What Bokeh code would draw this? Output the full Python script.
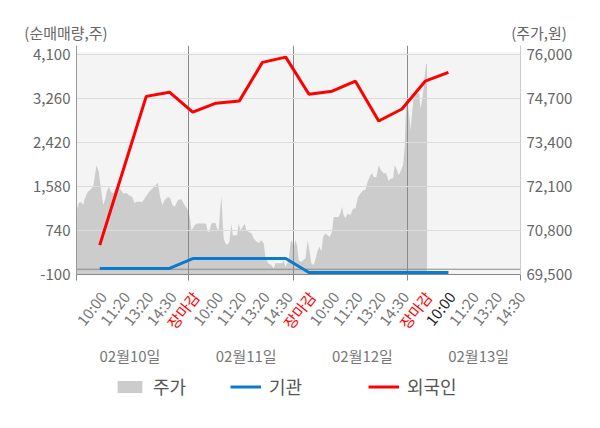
import math
from bokeh.plotting import figure
from bokeh.layouts import column
from bokeh.models import (Range1d, LinearAxis, FixedTicker, NumeralTickFormatter,
                          Legend, LegendItem, Span, CustomJSTickFormatter)
from bokeh.core.properties import value
from bokeh.embed import file_html
from bokeh.resources import INLINE

FONT = "Noto Sans CJK KR"
NAN = float("nan")

# ---------------- data ----------------
time_labels = ["10:00", "11:20", "13:20", "14:30", "장마감",
               "10:00", "11:20", "13:20", "14:30", "장마감",
               "10:00", "11:20", "13:20", "14:30", "장마감",
               "10:00", "11:20", "13:20", "14:30"]
dates = ["02월10일", "02월11일", "02월12일", "02월13일"]

foreign = [460, 1880, 3300, 3380, 3000, 3170, 3210, 3950, 4050,
           3340, 3400, 3590, 2830, 3060, 3590, 3760]
inst = [15, 15, 15, 15, 205, 205, 205, 205, 205,
        -62, -62, -62, -62, -62, -62, -62]

left_ticks = [-100, 740, 1580, 2420, 3260, 4100]
right_ticks = [69500, 70800, 72100, 73400, 74700, 76000]

# intraday price (fraction of trading day, price) for each day
day1_t = [0.00, 0.02, 0.04, 0.06, 0.07, 0.10, 0.12, 0.15, 0.17, 0.18, 0.20, 0.21, 0.24, 0.26, 0.27,
          0.29, 0.31, 0.33, 0.36, 0.38, 0.40, 0.42, 0.45, 0.47, 0.50, 0.52, 0.54, 0.56, 0.59, 0.62,
          0.65, 0.68, 0.71, 0.73, 0.75, 0.77, 0.79, 0.82, 0.84, 0.86, 0.88, 0.91, 0.94, 0.96, 0.99]
day1_p = [71370, 71610, 71640, 71550, 71700, 71940, 71990, 72110, 72530, 72730, 72530, 72240, 71550, 71760, 71940,
          72090, 71940, 71900, 72090, 72050, 71990, 71890, 71910, 71840, 71790, 71610, 71650, 71650, 71650, 71790,
          71940, 72040, 72140, 72210, 71790, 71550, 71700, 71790, 71750, 71550, 71500, 71700, 71720, 71600, 71450]
day2_t = [0.006, 0.022, 0.031, 0.044, 0.063, 0.085, 0.117, 0.148, 0.171, 0.186, 0.202, 0.221, 0.259, 0.275,
          0.291, 0.304, 0.316, 0.326, 0.338, 0.354, 0.370, 0.392, 0.411, 0.424, 0.449, 0.465, 0.481, 0.497,
          0.519, 0.538, 0.554, 0.576, 0.602, 0.624, 0.646, 0.671, 0.697, 0.718, 0.735, 0.760, 0.791, 0.813,
          0.829, 0.861, 0.893, 0.908, 0.924, 0.955, 0.974, 0.987]
day2_p = [71350, 71105, 70810, 70860, 70960, 71010, 71010, 71010, 71010, 70760, 70760, 71010, 71030, 70860,
          70810, 71400, 71810, 71200, 70560, 70420, 70370, 70460, 71010, 70660, 70660, 70660, 71010, 70810,
          70910, 71010, 70810, 70760, 70710, 70560, 70480, 70430, 70510, 70420, 70020, 69830, 69780, 69680,
          69830, 69830, 69830, 69920, 69730, 69920, 70460, 70510]
day3_t = [0.003, 0.018, 0.032, 0.047, 0.068, 0.085, 0.106, 0.126, 0.141, 0.158, 0.179, 0.196, 0.214, 0.231,
          0.246, 0.261, 0.281, 0.302, 0.319, 0.340, 0.354, 0.378, 0.398, 0.413, 0.428, 0.442, 0.457, 0.478,
          0.501, 0.525, 0.545, 0.569, 0.589, 0.613, 0.633, 0.653, 0.677, 0.692, 0.706, 0.730, 0.750, 0.771,
          0.794, 0.815, 0.838, 0.859, 0.877, 0.891, 0.912, 0.926, 0.947, 0.965, 0.979, 0.988, 0.997]
day3_p = [70300, 70510, 70370, 69920, 69870, 69920, 69970, 70510, 70220, 69830, 69780, 69970, 70220, 70320,
          70170, 70610, 70710, 70660, 70610, 70760, 71200, 71200, 71200, 71300, 71500, 71250, 71160, 71300,
          71250, 71450, 71450, 71790, 71890, 71990, 71990, 72240, 72430, 72490, 72380, 72380, 72730, 72580,
          72490, 72490, 72260, 72340, 72340, 72730, 72580, 72430, 72580, 72730, 73270, 74160, 74650]
day4_t = [0.000, 0.011, 0.023, 0.030, 0.044, 0.058, 0.072, 0.093, 0.108, 0.117, 0.128, 0.141, 0.155,
          0.167, 0.176]
day4_p = [74650, 74400, 74060, 73760, 74260, 74750, 74850, 74850, 74850, 74400, 74550, 74850, 75340,
          75690, 75740]

# day boundaries on the category axis (session breaks)
day_bounds = [0, 4.8, 9.33, 14.22, 19.1]

# ---------------- layout constants ----------------
W = 592
HEAD_H = 43
BL, BR, BT, BB = 76, 72, 2, 12
PANEL_H = 222          # shaded plot panel height (px)
STUB = 7               # vertical lines rise this far above the panel (px)
FRAME_H = PANEL_H + STUB
MAIN_H = BT + FRAME_H + BB
FOOT_H = 134
y_lo, panel_top = -100, 4138
p_lo, p_panel_top = 69500, 76059
uy = (panel_top - y_lo) / PANEL_H
up = (p_panel_top - p_lo) / PANEL_H
y_hi = panel_top + STUB * uy
p_hi = p_panel_top + STUB * up
x_lo, x_hi = day_bounds[0], day_bounds[-1]
ux = (x_hi - x_lo) / (W - BL - BR)   # x data units per pixel

def bare(height, xr, yr):
    f = figure(width=W, height=height, x_range=xr, y_range=yr, x_axis_type=None, y_axis_type=None,
               output_backend="svg", toolbar_location=None, min_border=0, frame_align=False,
               outline_line_color=None, background_fill_color="white", border_fill_color="white")
    return f

# ---------------- header: axis titles ----------------
head = bare(HEAD_H, Range1d(0, W), Range1d(HEAD_H, 0))
head.text(x=[65.5, 538.5], y=[32, 32], text=["(순매매량,주)", "(주가,원)"],
          text_align="center", text_baseline="middle", text_font=value(FONT),
          text_font_size=value("15px"), text_color="#666666")

# ---------------- main chart ----------------
p = figure(width=W, height=MAIN_H, x_range=Range1d(x_lo, x_hi), y_range=Range1d(y_lo, y_hi),
           output_backend="svg", toolbar_location=None, frame_align=False,
           min_border_left=BL, min_border_right=BR, min_border_top=BT, min_border_bottom=BB,
           background_fill_color="white", border_fill_color="white", outline_line_color=None)
p.extra_y_ranges = {"price": Range1d(p_lo, p_hi)}

# shaded plot panel
p.quad(left=[x_lo], right=[x_hi], bottom=[y_lo], top=[panel_top], fill_color="#f4f4f4",
       line_color=None, level="image")

px, py = [], []
for d, (ts, ps) in enumerate([(day1_t, day1_p), (day2_t, day2_p), (day3_t, day3_p), (day4_t, day4_p)]):
    a, b = day_bounds[d], day_bounds[d + 1]
    for t, v in zip(ts, ps):
        px.append(a + t * (b - a))
        py.append(v)
area = p.varea(x=px, y1=[p_lo] * len(px), y2=py, y_range_name="price",
               fill_color="#cccccc", level="image")

ks = list(range(1, len(foreign) + 1))
blue = p.line(ks, inst, line_color="#0a7bcc", line_width=3)
red = p.line(ks, foreign, line_color="#ff0000", line_width=3)

p.add_layout(Span(location=0, dimension="width", line_color="#8a8a8a", line_width=1, level="underlay"))

ya = p.yaxis[0]
ya.ticker = FixedTicker(ticks=left_ticks)
ya.formatter = NumeralTickFormatter(format="0,0")
ra = LinearAxis(y_range_name="price", ticker=FixedTicker(ticks=right_ticks),
                formatter=NumeralTickFormatter(format="0,0"))
p.add_layout(ra, "right")
for ax, lc in ((ya, "#999999"), (ra, "#cccccc")):
    ax.major_label_text_font = FONT
    ax.major_label_text_font_size = "15px"
    ax.major_label_text_color = "#666666"
    ax.major_tick_out = 0
    ax.major_tick_in = 0
    ax.minor_tick_out = 0
    ax.minor_tick_in = 0
    ax.axis_line_color = lc
    ax.major_label_standoff = 6

xa = p.xaxis[0]
xa.ticker = FixedTicker(ticks=day_bounds)
xa.formatter = CustomJSTickFormatter(code="return ''")
xa.major_label_text_font_size = "0px"
xa.major_label_standoff = 0
xa.major_tick_out = 6
xa.major_tick_in = 0
xa.minor_tick_out = 0
xa.minor_tick_in = 0
xa.axis_line_color = "#888888"
xa.major_tick_line_color = "#888888"

p.ygrid.ticker = FixedTicker(ticks=left_ticks)
p.ygrid.grid_line_color = "#dcdcdc"
p.xgrid.ticker = FixedTicker(ticks=day_bounds[1:-1])
p.xgrid.grid_line_color = "#8a8a8a"

# ---------------- footer: time labels, dates, legend ----------------
foot = bare(FOOT_H, Range1d(x_lo - BL * ux, x_lo + (W - BL) * ux), Range1d(FOOT_H, 0))
last = len(foreign) - 1
tick_ks = list(range(1, len(time_labels) + 1))
tick_colors = ["#ff0000" if t == "장마감" else ("#222222" if i == last else "#777777")
               for i, t in enumerate(time_labels)]
foot.text(x=[k + 3 * ux for k in tick_ks], y=[7] * len(tick_ks), text=time_labels,
          angle=math.radians(52), text_align="right", text_baseline="middle",
          text_font=value(FONT), text_font_size=value("15px"), text_color=tick_colors)
date_pos = [5 * d + 2.3 for d in range(len(dates))]
foot.text(x=date_pos, y=[69] * len(dates), text=dates, text_align="center", text_baseline="middle",
          text_font=value(FONT), text_font_size=value("15px"), text_color="#777777")

# legend glyph proxies (styled like the chart's renderers, no visible data)
g_area = foot.varea(x=[NAN], y1=[NAN], y2=[NAN], fill_color="#cccccc")
g_blue = foot.line(x=[NAN], y=[NAN], line_color="#0a7bcc", line_width=3)
g_red = foot.line(x=[NAN], y=[NAN], line_color="#ff0000", line_width=3)
for lbl, r, lx in (("주가", g_area, 114), ("기관", g_blue, 230), ("외국인", g_red, 368)):
    leg = Legend(items=[LegendItem(label=lbl, renderers=[r])], location=(lx, 21),
                 orientation="horizontal", glyph_width=31, glyph_height=15, label_standoff=8,
                 label_text_font=FONT, label_text_font_size="18px", label_text_color="#555555",
                 padding=0, margin=0, spacing=0, border_line_color=None, background_fill_alpha=0)
    foot.add_layout(leg, "center")

layout = column(head, p, foot, spacing=0)
open("out.html", "w").write(file_html(layout, INLINE))
